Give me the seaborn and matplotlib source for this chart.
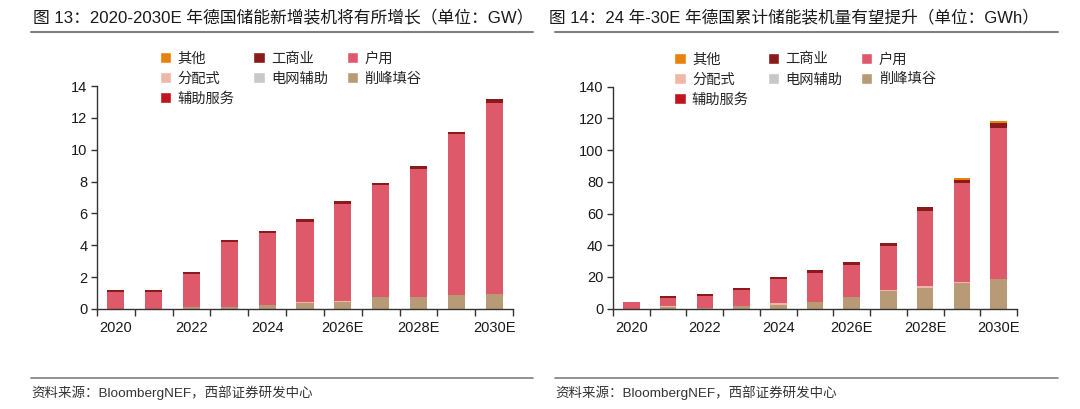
import numpy as np
import matplotlib
matplotlib.use('Agg')
import matplotlib.pyplot as plt
from matplotlib.patches import Patch
from matplotlib.lines import Line2D
import seaborn as sns

sns.set_theme(style='white')
plt.rcParams['font.family'] = ['Liberation Sans', 'Noto Sans CJK SC']
plt.rcParams['axes.unicode_minus'] = False

# 年份
years = ['2020', '2021', '2022', '2023', '2024', '2025',
         '2026E', '2027E', '2028E', '2029E', '2030E']
tick_years = ['2020', '2022', '2024', '2026E', '2028E', '2030E']

# 图13 新增装机 (GW)
new_aux = [0, 0, 0, 0, 0, 0, 0, 0, 0, 0, 0]
new_peak = [0, 0, 0.1, 0.1, 0.25, 0.35, 0.45, 0.75, 0.75, 0.9, 0.95]
new_grid = [0, 0, 0, 0, 0, 0, 0, 0, 0, 0, 0]
new_dist = [0, 0, 0, 0, 0, 0.08, 0.08, 0, 0, 0, 0]
new_home = [1.05, 1.05, 2.07, 4.1, 4.5, 5.04, 6.07, 7.04, 8.04, 10.07, 12.01]
new_ci = [0.15, 0.15, 0.15, 0.15, 0.15, 0.15, 0.15, 0.15, 0.17, 0.17, 0.2]
new_other = [0, 0, 0, 0, 0, 0, 0, 0, 0, 0, 0]

# 图14 累计装机 (GWh)
cum_aux = [0, 0, 0, 0, 0, 0, 0, 0, 0, 0, 0]
cum_peak = [0, 1.0, 0.5, 1.5, 2.5, 4.2, 7.3, 11.0, 13.0, 16.0, 18.5]
cum_grid = [0, 0, 0, 0, 0, 0, 0, 0, 0, 0, 0]
cum_dist = [0, 0.6, 0, 0, 1.0, 0, 0, 1.0, 1.0, 0.8, 0]
cum_home = [4.2, 5.1, 7.3, 10.2, 15.0, 18.5, 20.3, 27.6, 47.8, 62.4, 95.3]
cum_ci = [0, 1.5, 1.7, 1.5, 1.5, 1.7, 1.8, 1.8, 2.5, 2.2, 3.5]
cum_other = [0, 0, 0, 0, 0, 0, 0, 0, 0, 1.2, 1.0]

names = ['辅助服务', '削峰填谷', '电网辅助', '分配式', '户用', '工商业', '其他']
colors = ['#C0141E', '#B89B76', '#C8C8C8', '#F0B7A8', '#DE5A6A', '#8B1A1A', '#E8820E']
legend_order = ['其他', '分配式', '辅助服务', '工商业', '电网辅助', '户用', '削峰填谷']

fig = plt.figure(figsize=(10.8, 4.09), dpi=100)
ax1 = fig.add_axes([0.0898, 0.2445, 0.3852, 0.5452])
ax2 = fig.add_axes([0.5676, 0.2453, 0.3741, 0.5428])


def stacked(ax, layers, ymax, ystep):
    tops = np.cumsum(np.array(layers, dtype=float), axis=0)
    # 从最高的累计值开始画, 下面的层覆盖上面
    for i in range(len(layers) - 1, -1, -1):
        sns.barplot(x=years, y=tops[i], color=colors[i], width=0.45,
                    saturation=1, errorbar=None, ax=ax, linewidth=0)
    ax.set_xlim(-0.5, 10.5)
    ax.set_ylim(0, ymax)
    ax.set_yticks(np.arange(0, ymax + 0.1, ystep))
    ax.set_yticklabels([str(int(v)) for v in np.arange(0, ymax + 0.1, ystep)],
                       fontsize=10.5, color='#1a1a1a')
    ax.set_xticks(np.arange(-0.5, 11, 1))
    ax.set_xticklabels([])
    ax.set_xticks([0, 2, 4, 6, 8, 10], minor=True)
    ax.set_xticklabels(tick_years, minor=True, fontsize=10.5, color='#1a1a1a')
    ax.tick_params(axis='x', which='major', direction='out', length=5,
                   width=1, color='#333333', bottom=True)
    ax.tick_params(axis='x', which='minor', length=0, pad=9, bottom=True)
    ax.tick_params(axis='y', direction='out', length=4, width=1,
                   color='#333333', left=True, pad=3)
    ax.set_xlabel('')
    ax.set_ylabel('')
    for s in ['top', 'right']:
        ax.spines[s].set_visible(False)
    for s in ['left', 'bottom']:
        ax.spines[s].set_color('#333333')
        ax.spines[s].set_linewidth(1)
    handles = [Patch(facecolor=colors[names.index(n)], label=n) for n in legend_order]
    ax.legend(handles=handles, ncol=3, loc='upper left',
              bbox_to_anchor=(0.137, 1.18), frameon=False, fontsize=10.3,
              handlelength=0.8, handleheight=0.8, handletextpad=0.45,
              columnspacing=1.3, labelspacing=0.42, borderaxespad=0)


stacked(ax1, [new_aux, new_peak, new_grid, new_dist, new_home, new_ci, new_other], 14, 2)
stacked(ax2, [cum_aux, cum_peak, cum_grid, cum_dist, cum_home, cum_ci, cum_other], 140, 20)

# 标题与来源
fig.text(33 / 1080, 1 - 17 / 409, '图 13：2020-2030E 年德国储能新增装机将有所增长（单位：GW）',
         fontsize=12.1, va='center', ha='left', color='#1a1a1a')
fig.text(549 / 1080, 1 - 17 / 409, '图 14：24 年-30E 年德国累计储能装机量有望提升（单位：GWh）',
         fontsize=12.0, va='center', ha='left', color='#1a1a1a')
for x0, x1 in [(31, 533), (555, 1058)]:
    fig.add_artist(Line2D([x0 / 1080, x1 / 1080], [1 - 32 / 409] * 2,
                          color='#808080', lw=1.5))
    fig.add_artist(Line2D([x0 / 1080, x1 / 1080], [1 - 378 / 409] * 2,
                          color='#808080', lw=1.2))
fig.text(31 / 1080, 1 - 393 / 409, '资料来源：BloombergNEF，西部证券研发中心',
         fontsize=9.7, va='center', ha='left', color='#333333')
fig.text(555 / 1080, 1 - 393 / 409, '资料来源：BloombergNEF，西部证券研发中心',
         fontsize=9.7, va='center', ha='left', color='#333333')

fig.savefig('out.png', dpi=100)
